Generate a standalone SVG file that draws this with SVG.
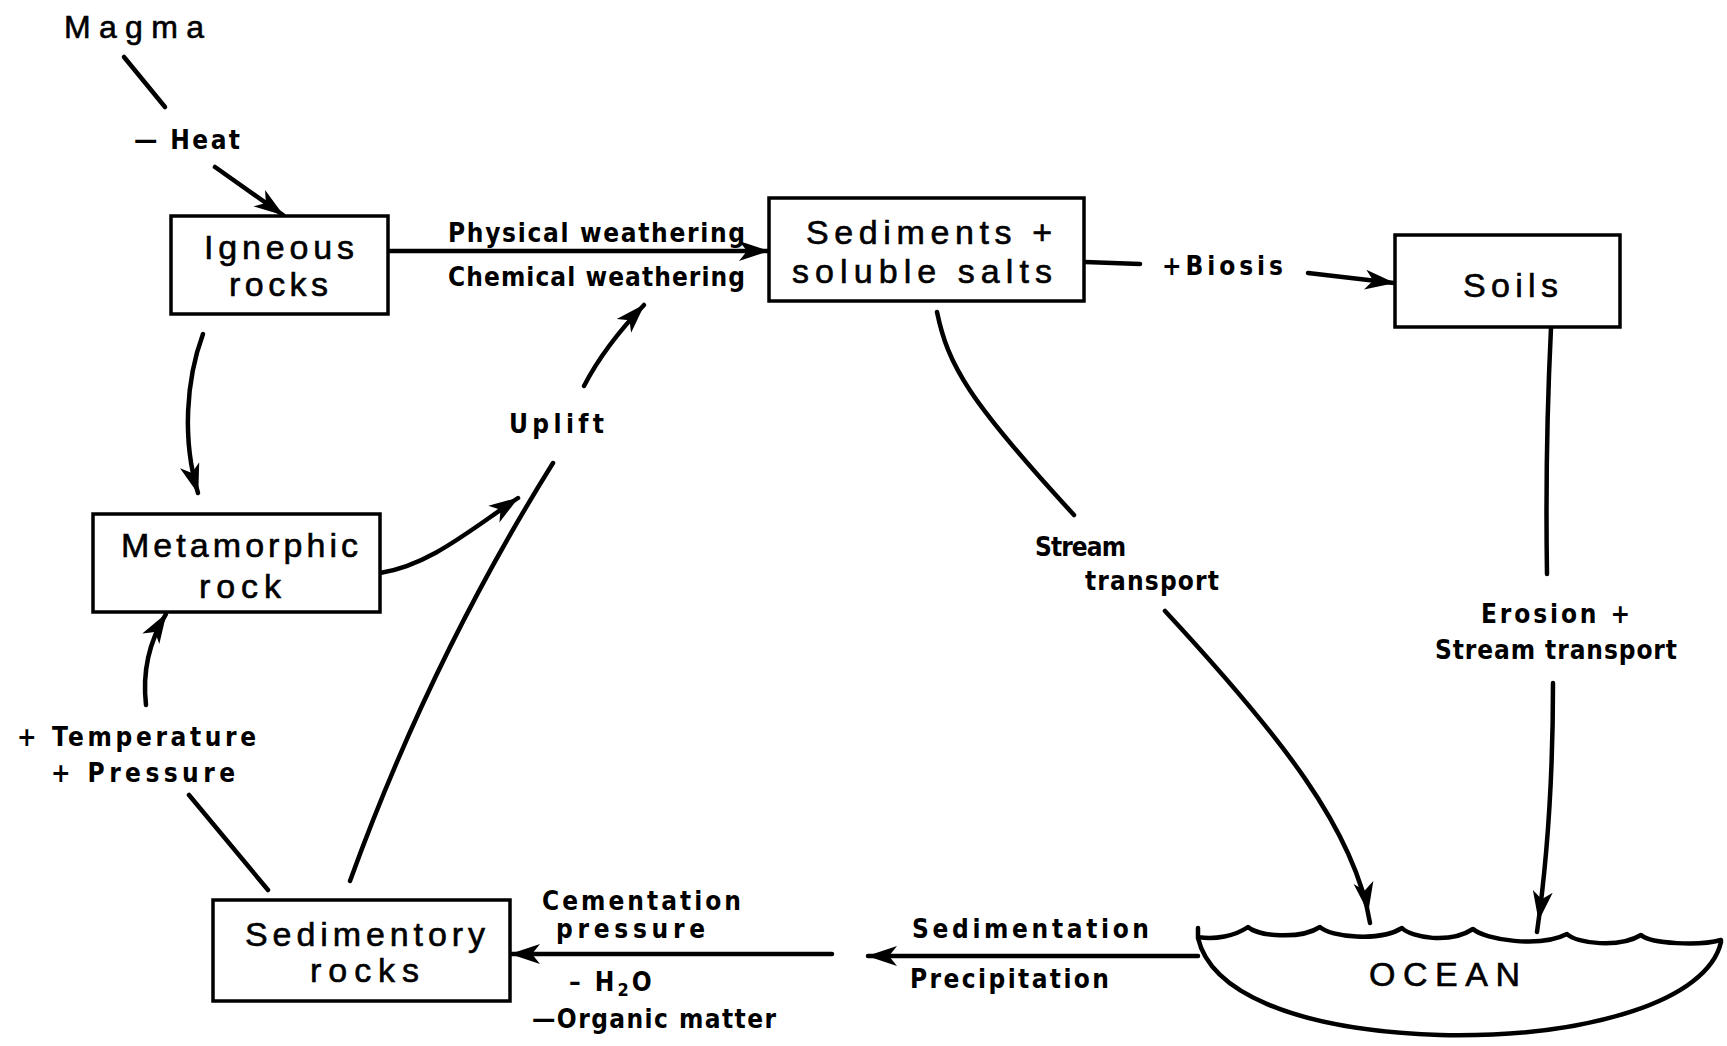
<svg xmlns="http://www.w3.org/2000/svg" width="1727" height="1046" viewBox="0 0 1727 1046">
  <style>
    .box { fill: #fff; stroke: #000; stroke-width: 3.5; }
    .big { font-family: "Liberation Sans", "DejaVu Sans", sans-serif; font-size: 34px; fill: #000; stroke: #000; stroke-width: 0.6; }
    .lbl { font-family: "Liberation Sans Narrow", "DejaVu Sans Condensed", "Liberation Sans", sans-serif; font-weight: bold; font-size: 26px; fill: #000; }
    .wire { fill: none; stroke: #000; stroke-width: 4.5; stroke-linecap: round; stroke-linejoin: round; }
    .arrow { marker-end: url(#head); }
    .arrow-past { marker-end: url(#head-past); }
  </style>
  <defs>
    <!-- barbed head, tip on the end of the line -->
    <marker id="head" markerUnits="userSpaceOnUse" markerWidth="32" markerHeight="22" refX="29" refY="11" orient="auto">
      <path d="M0,1 L30,11 L0,21 L8,11 z" fill="#000"/>
    </marker>
    <!-- barbed head set back so the line runs on past the tip -->
    <marker id="head-past" markerUnits="userSpaceOnUse" markerWidth="44" markerHeight="22" refX="41" refY="11" orient="auto">
      <path d="M0,1 L30,11 L0,21 L8,11 z" fill="#000"/>
    </marker>
  </defs>
  <rect width="1727" height="1046" fill="#fff"/>

  <!-- connectors -->
  <g id="connectors">
    <path class="wire" d="M124,57 L165,107"/>
    <path class="wire arrow" d="M215,167 L283,215"/>
    <path class="wire arrow" d="M389,251 L768,251"/>
    <path class="wire" d="M1085,262 L1140,264"/>
    <path class="wire arrow" d="M1308,273 L1394,283"/>
    <path class="wire" d="M1551,328 Q1545,450 1547,574"/>
    <path class="wire arrow-past" d="M1553,683 Q1553,820 1537,932"/>
    <path class="wire" d="M937,312 C948,365 968,400 1074,515"/>
    <path class="wire arrow-past" d="M1165,611 C1280,735 1355,830 1370,923"/>
    <path class="wire arrow" d="M1198,956 L868,956"/>
    <path class="wire arrow" d="M832,954 L511,954"/>
    <path class="wire" d="M268,890 L189,795"/>
    <path class="wire arrow" d="M146,705 C142,670 150,640 166,614"/>
    <path class="wire arrow" d="M203,334 C186,380 182,440 198,493"/>
    <path class="wire arrow" d="M380,573 C430,565 470,530 518,498"/>
    <path class="wire arrow" d="M584,386 C600,355 620,330 644,305"/>
    <path class="wire" d="M350,881 Q430,660 553,463"/>
  </g>

  <!-- free labels -->
  <g id="magma">
    <text class="big" x="64" y="38" textLength="140" lengthAdjust="spacing" style="font-size:32px">Magma</text>
  </g>
  <g id="labels">
    <text class="lbl" x="134" y="149" textLength="106" lengthAdjust="spacing">— Heat</text>
    <text class="lbl" x="448" y="242" textLength="297" lengthAdjust="spacing">Physical weathering</text>
    <text class="lbl" x="448" y="286" textLength="297" lengthAdjust="spacing">Chemical weathering</text>
    <text class="lbl" x="1162" y="275" textLength="121" lengthAdjust="spacing">+Biosis</text>
    <text class="lbl" x="509" y="433" textLength="95" lengthAdjust="spacing">Uplift</text>
    <text class="lbl" x="1035" y="556" textLength="91" lengthAdjust="spacing">Stream</text>
    <text class="lbl" x="1085" y="590" textLength="134" lengthAdjust="spacing">transport</text>
    <text class="lbl" x="1481" y="623" textLength="149" lengthAdjust="spacing">Erosion +</text>
    <text class="lbl" x="1435" y="659" textLength="242" lengthAdjust="spacing">Stream transport</text>
    <text class="lbl" x="17" y="746" textLength="239" lengthAdjust="spacing">+ Temperature</text>
    <text class="lbl" x="51" y="782" textLength="184" lengthAdjust="spacing">+ Pressure</text>
    <text class="lbl" x="542" y="910" textLength="199" lengthAdjust="spacing">Cementation</text>
    <text class="lbl" x="556" y="938" textLength="149" lengthAdjust="spacing">pressure</text>
    <text class="lbl" x="569" y="991" letter-spacing="3">– H<tspan font-size="18" dy="5">2</tspan><tspan dy="-5">O</tspan></text>
    <text class="lbl" x="532" y="1028" textLength="244" lengthAdjust="spacing">—Organic matter</text>
    <text class="lbl" x="912" y="938" textLength="237" lengthAdjust="spacing">Sedimentation</text>
    <text class="lbl" x="910" y="988" textLength="199" lengthAdjust="spacing">Precipitation</text>
  </g>

  <!-- nodes -->
  <g id="igneous">
    <rect class="box" x="171" y="216" width="217" height="98"/>
    <text class="big" x="204" y="259" textLength="150" lengthAdjust="spacing">Igneous</text>
    <text class="big" x="229" y="296" textLength="99" lengthAdjust="spacing">rocks</text>
  </g>
  <g id="sediments">
    <rect class="box" x="769" y="198" width="315" height="103"/>
    <text class="big" x="806" y="244" textLength="246" lengthAdjust="spacing">Sediments +</text>
    <text class="big" x="792" y="283" textLength="260" lengthAdjust="spacing">soluble salts</text>
  </g>
  <g id="soils">
    <rect class="box" x="1395" y="235" width="225" height="92"/>
    <text class="big" x="1463" y="297" textLength="95" lengthAdjust="spacing">Soils</text>
  </g>
  <g id="metamorphic">
    <rect class="box" x="93" y="514" width="287" height="98"/>
    <text class="big" x="121" y="557" textLength="237" lengthAdjust="spacing">Metamorphic</text>
    <text class="big" x="199" y="598" textLength="82" lengthAdjust="spacing">rock</text>
  </g>
  <g id="sedimentary">
    <rect class="box" x="213" y="900" width="297" height="101"/>
    <text class="big" x="245" y="946" textLength="240" lengthAdjust="spacing">Sedimentory</text>
    <text class="big" x="310" y="982" textLength="109" lengthAdjust="spacing">rocks</text>
  </g>
  <g id="ocean">
    <path class="wire" d="M1198,938 C1210,990 1290,1030 1440,1035 C1590,1038 1708,1000 1721,942" fill="#fff"/>
    <path class="wire" d="M1198,928 L1198,937 C1215,940 1235,936 1248,927 C1258,936 1300,940 1320,927 C1330,937 1380,942 1402,928 C1412,938 1450,944 1473,929 C1485,940 1540,948 1567,934 C1577,944 1620,948 1641,935 C1651,944 1700,946 1721,940"/>
    <text class="big" x="1369" y="986" textLength="151" lengthAdjust="spacing">OCEAN</text>
  </g>
</svg>
